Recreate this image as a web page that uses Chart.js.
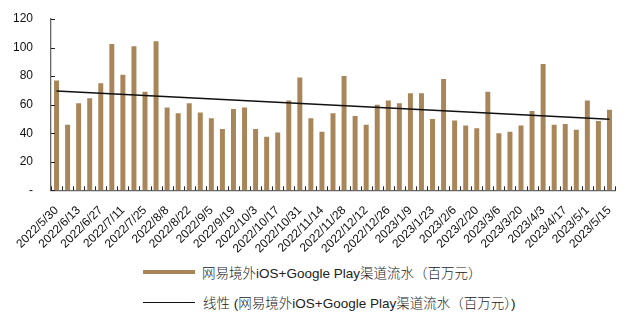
<!DOCTYPE html>
<html>
<head>
<meta charset="utf-8">
<script src="https://cdn.jsdelivr.net/npm/chart.js@4.4.1/dist/chart.umd.min.js"></script>
<style>
  html, body { margin: 0; padding: 0; background: #fff; }
  #wrap { position: relative; width: 626px; height: 314px; overflow: hidden; }
  #box { position: absolute; left: 0; top: 0; width: 626px; height: 261px; }
  .leg { position: absolute; left: 143px; font-family: "Liberation Sans", Arial, "Noto Sans CJK SC", sans-serif; font-size: 13.5px; color: #222; white-space: nowrap; display: flex; align-items: center; height: 16px; }
  .sw-bar { width: 52px; height: 4px; background: #a9865a; margin-right: 7px; }
  .sw-line { width: 52px; height: 0; border-top: 1.3px solid #111; margin-right: 8px; }
  .cjk { font-family: "Noto Sans CJK SC", sans-serif; font-weight: 300; }
</style>
</head>
<body>
<div id="wrap">
  <div id="box"><canvas id="c"></canvas></div>
  <div class="leg" id="leg1" style="top:264px;"><span class="sw-bar"></span><span id="t1"></span></div>
  <div class="leg" id="leg2" style="top:294px;"><span class="sw-line"></span><span id="t2"></span></div>
</div>
<script>
const categories = [
  "2022/5/30","2022/6/6","2022/6/13","2022/6/20","2022/6/27","2022/7/4","2022/7/11","2022/7/18","2022/7/25",
  "2022/8/1","2022/8/8","2022/8/15","2022/8/22","2022/8/29","2022/9/5","2022/9/12","2022/9/19","2022/9/26",
  "2022/10/3","2022/10/10","2022/10/17","2022/10/24","2022/10/31","2022/11/7","2022/11/14","2022/11/21","2022/11/28",
  "2022/12/5","2022/12/12","2022/12/19","2022/12/26","2023/1/2","2023/1/9","2023/1/16","2023/1/23","2023/1/30",
  "2023/2/6","2023/2/13","2023/2/20","2023/2/27","2023/3/6","2023/3/13","2023/3/20","2023/3/27",
  "2023/4/3","2023/4/10","2023/4/17","2023/4/24","2023/5/1","2023/5/8","2023/5/15"
];
const revenue = [
  77, 46, 61, 64.5, 75, 102.5, 81, 101, 69,
  104.5, 58, 54, 61, 54.5, 50.5, 43, 57, 58,
  43, 37.5, 40.5, 63, 79, 50.5, 41, 54, 80,
  52, 46, 60, 63, 61, 68, 68, 50, 78,
  49, 45.5, 43.5, 69, 40, 41, 45.5, 55.5,
  88.5, 46, 46.5, 42.5, 63, 48.5, 56.5
];
const trendStart = 69.5;
const trendEnd = 49.8;
const yTicks = [0, 20, 40, 60, 80, 100, 120];
const seriesName = "网易境外iOS+Google Play渠道流水（百万元）";
const trendName = "线性 (网易境外iOS+Google Play渠道流水（百万元）)";

const trend = categories.map((_, i) => i === 0 ? trendStart : (i === categories.length - 1 ? trendEnd : null));

function fillLegend(el, text) {
  const parts = text.split(/([\u3000-\u9fff\uff00-\uffef]+)/);
  parts.forEach(p => {
    if (!p) return;
    const s = document.createElement('span');
    if (/[\u3000-\u9fff\uff00-\uffef]/.test(p)) s.className = 'cjk';
    s.textContent = p;
    el.appendChild(s);
  });
}
fillLegend(document.getElementById('t1'), seriesName);
fillLegend(document.getElementById('t2'), trendName);

const insideTicks = {
  id: 'insideTicks',
  afterDatasetsDraw(chart) {
    const ctx = chart.ctx, x = chart.scales.x, y = chart.scales.y, a = chart.chartArea;
    ctx.save();
    ctx.strokeStyle = '#222';
    ctx.lineWidth = 1;
    const half = (x.getPixelForValue(1) - x.getPixelForValue(0)) / 2;
    for (let i = 0; i <= categories.length; i++) {
      const px = Math.round(x.getPixelForValue(i) - half) + 0.5;
      ctx.beginPath(); ctx.moveTo(px, a.bottom); ctx.lineTo(px, a.bottom - 4); ctx.stroke();
    }
    yTicks.forEach(v => {
      const py = Math.round(y.getPixelForValue(v)) + 0.5;
      ctx.beginPath(); ctx.moveTo(a.left, py); ctx.lineTo(a.left + 4, py); ctx.stroke();
    });
    ctx.restore();
  }
};

new Chart(document.getElementById('c'), {
  data: {
    labels: categories,
    datasets: [
      { type: 'line', label: trendName, data: trend, spanGaps: true, borderColor: '#111', borderWidth: 1.5,
        pointRadius: 0, fill: false, order: 0 },
      { type: 'bar', label: seriesName, data: revenue, backgroundColor: '#a9865a',
        barPercentage: 0.45, categoryPercentage: 1.0, order: 1 }
    ]
  },
  options: {
    responsive: true, maintainAspectRatio: false, animation: false,
    layout: { padding: { left: 0, right: 11, top: 19, bottom: 0 } },
    plugins: { legend: { display: false }, tooltip: { enabled: false } },
    scales: {
      x: {
        grid: { display: false, offset: true },
        border: { display: true, color: '#666', width: 1.3 },
        ticks: {
          autoSkip: false, maxRotation: 45, minRotation: 45, padding: 5,
          color: '#111', font: { family: "'Liberation Sans', Arial, sans-serif", size: 12 },
          callback: (v, i) => (i % 2 === 0 ? categories[i] : '')
        }
      },
      y: {
        min: 0, max: 120,
        afterBuildTicks: s => { s.ticks = yTicks.map(v => ({ value: v })); },
        afterFit: s => { s.width = 51; },
        grid: { display: false },
        border: { display: true, color: '#666', width: 1.3 },
        ticks: {
          padding: 10, color: '#111', font: { family: "'Liberation Sans', Arial, sans-serif", size: 12 },
          callback: v => (v === 0 ? '-' : v)
        }
      }
    }
  },
  plugins: [insideTicks]
});
</script>
</body>
</html>
